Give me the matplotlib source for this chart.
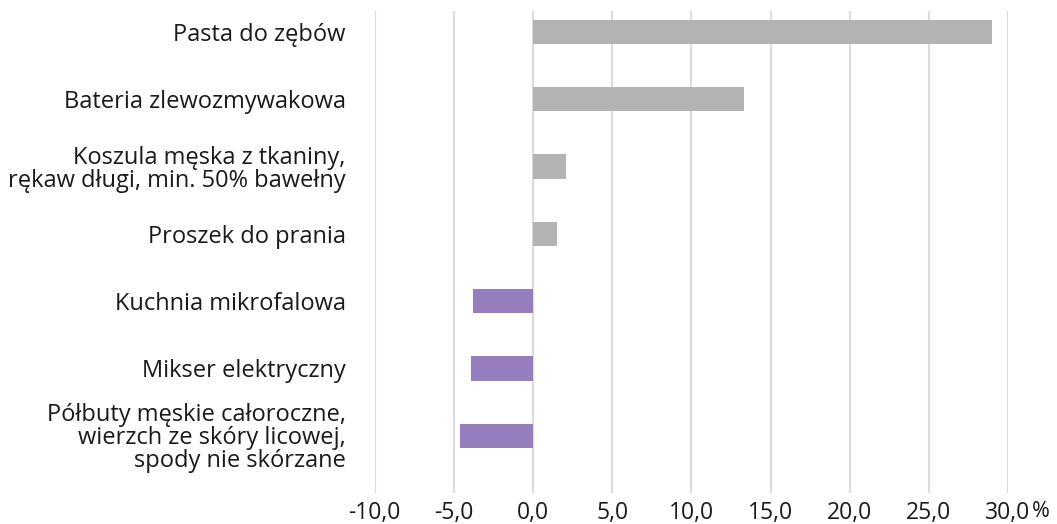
"""Zmiana cen wybranych towarów (%), wykres słupkowy poziomy."""
import matplotlib.pyplot as plt
import numpy as np

CATEGORIES = [
    "Pasta do zębów",
    "Bateria zlewozmywakowa",
    "Koszula męska z tkaniny,\nrękaw długi, min. 50% bawełny",
    "Proszek do prania",
    "Kuchnia mikrofalowa",
    "Mikser elektryczny",
    "Półbuty męskie całoroczne,\nwierzch ze skóry licowej,\nspody nie skórzane",
]
VALUES = [29.0, 13.3, 2.1, 1.5, -3.8, -3.9, -4.6]
X_TICKS = [-10, -5, 0, 5, 10, 15, 20, 25, 30]

POS_COLOR = "#b3b3b3"
NEG_COLOR = "#957dbe"
GRID_COLOR = "#dcdcdc"
FONT_SIZE = 16.5


def main() -> None:
    plt.rcParams["font.family"] = ["Open Sans", "DejaVu Sans"]
    fig = plt.figure(figsize=(10.57, 5.24), dpi=100)
    ax = fig.add_axes([0.3545, 0.0592, 0.9537 - 0.3545, 0.979 - 0.0592])

    y = np.arange(len(CATEGORIES))
    colors = [POS_COLOR if v >= 0 else NEG_COLOR for v in VALUES]
    ax.barh(y, VALUES, height=0.36, color=colors, zorder=2)

    ax.set_xlim(-10, 30)
    ax.set_ylim(len(CATEGORIES) - 0.15, -0.31)
    ax.set_xticks(X_TICKS)
    ax.set_xticklabels([f"{t:.1f}".replace(".", ",") for t in X_TICKS])
    ax.set_yticks(y)
    ax.set_yticklabels(CATEGORIES, linespacing=0.95)
    ax.tick_params(axis="both", length=0, labelsize=FONT_SIZE, colors="#1a1a1a")
    ax.tick_params(axis="y", labelsize=17, pad=21)
    ax.tick_params(axis="x", pad=6)
    ax.grid(axis="x", color=GRID_COLOR, linewidth=1.6, zorder=1)
    ax.set_axisbelow(True)
    for s in ax.spines.values():
        s.set_visible(False)
    # percent sign follows the last tick label
    ax.annotate("%", xy=(30, 0), xycoords=("data", "axes fraction"),
                xytext=(17, -6), textcoords="offset points",
                ha="left", va="top", fontsize=FONT_SIZE - 1, color="#1a1a1a")

    fig.savefig("out.png", dpi=100)


if __name__ == "__main__":
    main()
